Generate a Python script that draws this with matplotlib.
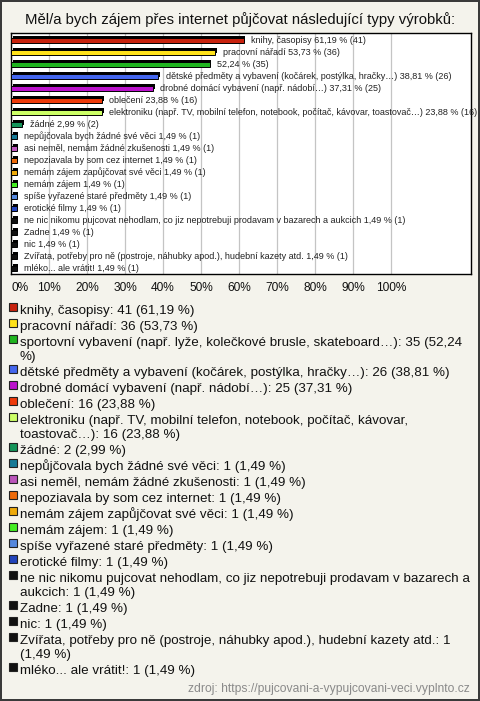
import matplotlib
matplotlib.use("Agg")
import matplotlib.pyplot as plt
import matplotlib.patheffects as pe
from matplotlib.patches import Rectangle

plt.rcParams["font.family"] = ["Liberation Sans", "DejaVu Sans"]

# --- data ---------------------------------------------------------------
categories = [
    "knihy, časopisy",
    "pracovní nářadí",
    "sportovní vybavení (např. lyže, kolečkové brusle, skateboard…)",
    "dětské předměty a vybavení (kočárek, postýlka, hračky…)",
    "drobné domácí vybavení (např. nádobí…)",
    "oblečení",
    "elektroniku (např. TV, mobilní telefon, notebook, počítač, kávovar, toastovač…)",
    "žádné",
    "nepůjčovala bych žádné své věci",
    "asi neměl, nemám žádné zkušenosti",
    "nepoziavala by som cez internet",
    "nemám zájem zapůjčovat své věci",
    "nemám zájem",
    "spíše vyřazené staré předměty",
    "erotické filmy",
    "ne nic nikomu pujcovat nehodlam, co jiz nepotrebuji prodavam v bazarech a aukcich",
    "Zadne",
    "nic",
    "Zvířata, potřeby pro ně (postroje, náhubky apod.), hudební kazety atd.",
    "mléko... ale vrátit!",
]
counts = [41, 36, 35, 26, 25, 16, 16, 2, 1, 1, 1, 1, 1, 1, 1, 1, 1, 1, 1, 1]
percents = [61.19, 53.73, 52.24, 38.81, 37.31, 23.88, 23.88, 2.99,
            1.49, 1.49, 1.49, 1.49, 1.49, 1.49, 1.49, 1.49, 1.49, 1.49, 1.49, 1.49]
# the bar label of the third item is shown without its name in the source chart
show_name_in_bar = [True, True, False] + [True] * 17
colors = ["#C8220E", "#FFE21A", "#1FB51F", "#4466EE", "#BB11CC", "#EE3A0A",
          "#CCFF66", "#15955A", "#167A96", "#BB55BB", "#EE6A0A", "#EEAA0A",
          "#44EE22", "#5588DD", "#2244BB", "#111111", "#111111", "#111111",
          "#111111", "#111111"]
xticks = [0, 10, 20, 30, 40, 50, 60, 70, 80, 90, 100]
title = "Měl/a bych zájem přes internet půjčovat následující typy výrobků:"
source = "zdroj: https://pujcovani-a-vypujcovani-veci.vyplnto.cz"

BG = "#F4F3EC"
W, H = 480, 701
LEG_FS = 9.6


def fmt(v):
    return f"{v:.2f}".replace(".", ",")


fig = plt.figure(figsize=(W / 100, H / 100), dpi=100, facecolor=BG)
fig.patch.set_edgecolor("#3a3a3a")
fig.patch.set_linewidth(1.5)

fig.text(0.5, 1 - 20 / H, title, ha="center", va="center", fontsize=10.7, color="#111111")

# --- bar chart ---------------------------------------------------------------
ax_left, ax_top, ax_right, ax_bot = 11, 33, 471, 274
ax = fig.add_axes([ax_left / W, 1 - ax_bot / H, (ax_right - ax_left) / W, (ax_bot - ax_top) / H])
ax.set_facecolor("white")
ypos = list(range(len(categories)))
bars = ax.barh(ypos, percents, height=0.45, color=colors, edgecolor="black", linewidth=0.7, zorder=3)
for b in bars:
    b.set_path_effects([pe.SimplePatchShadow(offset=(1.3, 1.3), shadow_rgbFace="black", alpha=1.0), pe.Normal()])

ax.set_xlim(0, (ax_right - ax_left) / 3.8)
ax.set_ylim(len(categories) - 0.55, -0.6)
ax.set_xticks(xticks)
ax.set_xticklabels([f"{t}%" for t in xticks], fontsize=8.6, color="#111111")
ax.get_xticklabels()[0].set_ha("left")
ax.tick_params(axis="x", length=0, pad=6)
ax.set_yticks([])
ax.grid(axis="x", color="#C4C4C4", linewidth=0.9, zorder=0)
for s in ax.spines.values():
    s.set_color("black")
    s.set_linewidth(1.0)

for y, name, p, c, show in zip(ypos, categories, percents, counts, show_name_in_bar):
    lab = f"{name} {fmt(p)} % ({c})" if show else f"{fmt(p)} % ({c})"
    ax.annotate(lab, (p, y), xytext=(5.5, 0), textcoords="offset points", va="center", ha="left",
                fontsize=6.5, color="#222222", annotation_clip=False, clip_on=False)

# --- legend ------------------------------------------------------------------
fig.canvas.draw()
renderer = fig.canvas.get_renderer()
max_w = 452


def wrap(text):
    words = text.split(" ")
    lines, cur = [], ""
    for w in words:
        trial = w if not cur else cur + " " + w
        t = fig.text(0, 0, trial, fontsize=LEG_FS)
        width = t.get_window_extent(renderer).width
        t.remove()
        if width > max_w and cur:
            lines.append(cur)
            cur = w
        else:
            cur = trial
    lines.append(cur)
    return lines


base = 314
for name, c, p, col in zip(categories, counts, percents, colors):
    lines = wrap(f"{name}: {c} ({fmt(p)} %)")
    fig.patches.append(Rectangle((9 / W, 1 - (base - 3) / H), 8 / W, 8 / H, transform=fig.transFigure,
                                 facecolor=col, edgecolor="#222222", linewidth=0.8))
    for i, ln in enumerate(lines):
        fig.text(20 / W, 1 - (base + 14 * i) / H, ln, ha="left", va="baseline", fontsize=LEG_FS, color="#111111")
    base += 16 + 14 * (len(lines) - 1)

fig.text(470 / W, 1 - 689 / H, source, ha="right", va="center", fontsize=8.7, color="#8a8a8a")

fig.savefig("out.png", dpi=100, facecolor=BG, edgecolor=fig.patch.get_edgecolor())
